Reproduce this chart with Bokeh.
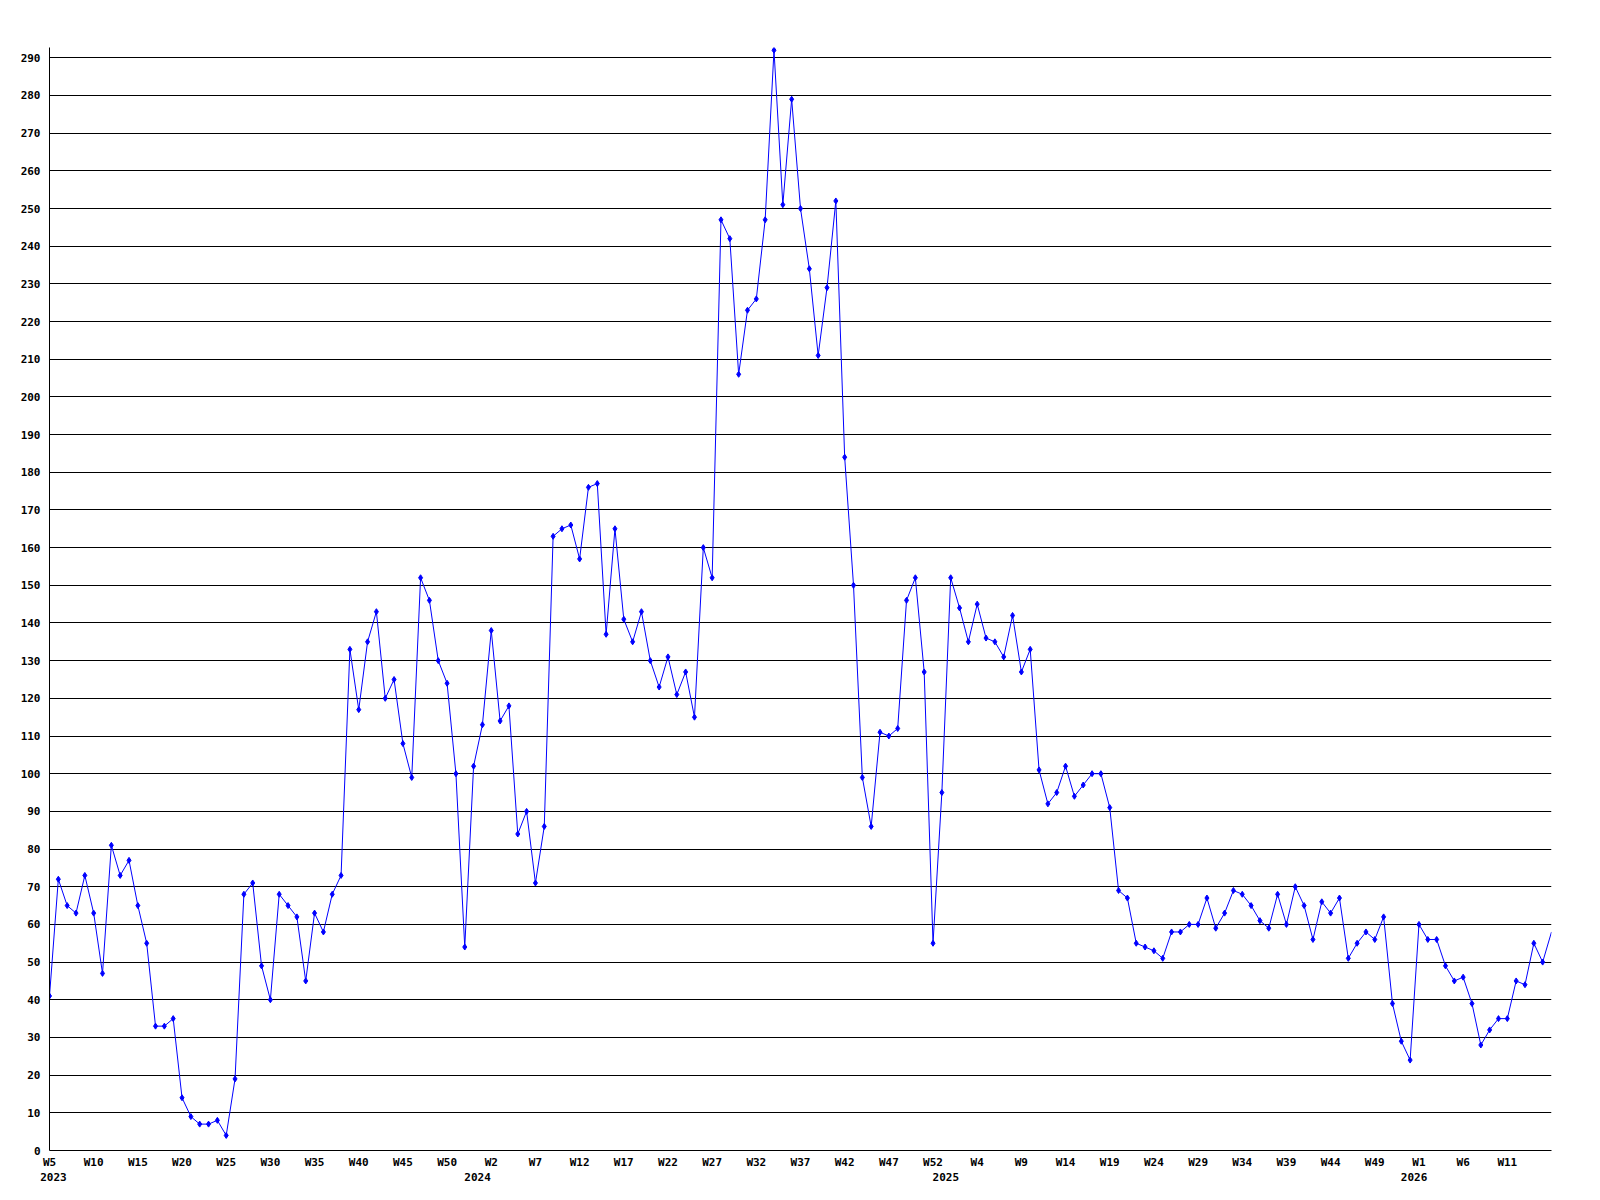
from bokeh.plotting import figure
from bokeh.models import LinearAxis, FixedTicker, Range1d, CustomJSTickFormatter
from bokeh.embed import file_html
from bokeh.resources import INLINE

# Weekly values, 2023 W5 .. 2026 (current week last)
values = [
    41, 72, 65, 63, 73, 63, 47, 81, 73, 77, 65, 55, 33, 33, 35, 14, 9, 7, 7, 8,
    4, 19, 68, 71, 49, 40, 68, 65, 62, 45, 63, 58, 68, 73,
    133, 117, 135, 143, 120, 125, 108, 99, 152, 146, 130, 124, 100, 54, 102, 113,
    138, 114, 118, 84, 90, 71, 86,
    163, 165, 166, 157, 176, 177, 137, 165, 141, 135, 143, 130, 123, 131, 121, 127,
    115, 160, 152,
    247, 242, 206, 223, 226, 247, 292, 251, 279, 250, 234, 211, 229, 252, 184, 150,
    99, 86, 111, 110, 112, 146, 152, 127, 55,
    95, 152, 144, 135, 145, 136, 135, 131, 142, 127, 133, 101, 92, 95, 102, 94, 97,
    100, 100, 91,
    69, 67, 55, 54, 53, 51, 58, 58, 60, 60, 67, 59, 63, 69, 68, 65, 61, 59, 68, 60,
    70, 65, 56, 66, 63, 67, 51, 55, 58, 56, 62,
    39, 29, 24, 60, 56, 56, 49, 45, 46, 39, 28, 32, 35, 35, 45, 44, 55, 50, 58,
]

week_tick_labels = [
    "W5", "W10", "W15", "W20", "W25", "W30", "W35", "W40", "W45", "W50",
    "W2", "W7", "W12", "W17", "W22", "W27", "W32", "W37", "W42", "W47", "W52",
    "W4", "W9", "W14", "W19", "W24", "W29", "W34", "W39", "W44", "W49",
    "W1", "W6", "W11",
]
week_tick_step = 5

year_labels = ["2023", "2024", "2025", "2026"]
year_start_index = [0, 48, 101, 154]

y_ticks = list(range(0, 300, 10))

n = len(values)
xs = list(range(n))

FONT = "DejaVu Sans Mono"
Y_TOP = 1103 / 3.768

p = figure(
    frame_width=1502, frame_height=1103,
    x_range=Range1d(0, n - 1), y_range=Range1d(0, Y_TOP),
    output_backend="svg", toolbar_location=None,
    min_border_left=49, min_border_top=47, min_border_right=20, min_border_bottom=45,
    background_fill_color="white", border_fill_color="white",
)
p.outline_line_color = None

# grid
p.xgrid.visible = False
p.ygrid.ticker = FixedTicker(ticks=y_ticks)
p.ygrid.grid_line_color = "black"
p.ygrid.grid_line_alpha = 1.0
p.ygrid.grid_line_width = 1

# y axis
p.yaxis.ticker = FixedTicker(ticks=y_ticks)
p.yaxis.axis_line_color = "black"
p.yaxis.major_tick_line_color = None
p.yaxis.major_tick_out = 0
p.yaxis.major_tick_in = 0
p.yaxis.minor_tick_line_color = None
p.yaxis.major_label_standoff = 9
p.yaxis.major_label_text_font = FONT
p.yaxis.major_label_text_font_style = "bold"
p.yaxis.major_label_text_font_size = "11px"
p.yaxis.major_label_text_color = "black"

# x axis (weeks)
week_ticks = [i * week_tick_step for i in range(len(week_tick_labels))]
p.xaxis.ticker = FixedTicker(ticks=week_ticks)
p.xaxis.formatter = CustomJSTickFormatter(args=dict(labels=week_tick_labels),
                                          code="return labels[index];")
p.xaxis.axis_line_color = "black"
p.xaxis.major_tick_line_color = None
p.xaxis.major_tick_out = 0
p.xaxis.major_tick_in = 0
p.xaxis.minor_tick_line_color = None
p.xaxis.major_label_standoff = 5
p.xaxis.major_label_text_font = FONT
p.xaxis.major_label_text_font_style = "bold"
p.xaxis.major_label_text_font_size = "11px"
p.xaxis.major_label_text_color = "black"

# second axis (years)
year_ticks = [s + 0.45 for s in year_start_index]
yax = LinearAxis(
    ticker=FixedTicker(ticks=year_ticks),
    formatter=CustomJSTickFormatter(args=dict(labels=year_labels), code="return labels[index];"),
    axis_line_color=None, major_tick_line_color=None, minor_tick_line_color=None,
    major_tick_out=0, major_tick_in=0,
    major_label_standoff=1,
    major_label_text_font=FONT, major_label_text_font_style="bold",
    major_label_text_font_size="11px", major_label_text_color="black",
)
p.add_layout(yax, "below")

# data
p.line(xs, values, line_color="#0000ff", line_width=1)
p.scatter(xs[:-1], values[:-1], marker="diamond", size=6,
          fill_color="#0000ff", line_color="#0000ff")

open("out.html", "w").write(file_html(p, INLINE))
